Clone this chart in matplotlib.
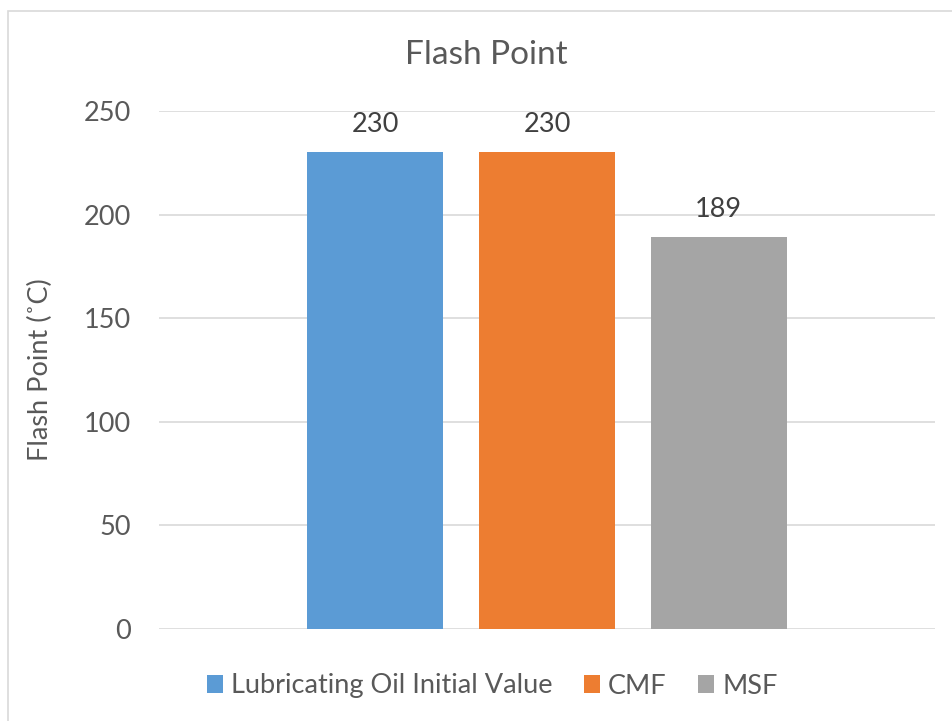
import matplotlib
matplotlib.use("Agg")
import matplotlib.pyplot as plt
from matplotlib.patches import Rectangle

plt.rcParams['font.family'] = ['Lato', 'DejaVu Sans']

series = ["Lubricating Oil Initial Value", "CMF", "MSF"]
values = [230, 230, 189]
colors = ["#5B9BD5", "#ED7D31", "#A5A5A5"]
yticks = [0, 50, 100, 150, 200, 250]

W, H = 953, 721
fig = plt.figure(figsize=(W / 100, H / 100), dpi=100)

# chart frame (light grey border)
fig.patches.append(Rectangle((8 / W, -0.01), 1.0, (H - 11) / H + 0.01,
                             transform=fig.transFigure, fill=False,
                             edgecolor="#D9D9D9", linewidth=1.2))

ax = fig.add_axes([159 / W, 1 - 629 / H, (935 - 159) / W, (629 - 111) / H])

text_c = "#595959"
positions = [-1, 0, 1]
width = 0.793
for pos, v, c, name in zip(positions, values, colors, series):
    ax.bar(pos, v, width=width, color=c, label=name, zorder=3)
    ax.annotate(f"{v}", (pos, v), xytext=(0, 11), textcoords="offset points",
                ha="center", va="bottom", fontsize=19.5, color="#404040")

ax.set_xlim(-2.262, 2.262)
ax.set_ylim(0, 250)
ax.set_yticks(yticks)
ax.set_xticks([])
ax.grid(axis="y", color="#D9D9D9", linewidth=1.2, zorder=0)
for s in ["top", "right", "left", "bottom"]:
    ax.spines[s].set_visible(False)
ax.tick_params(axis="y", length=0, pad=20, labelsize=19.5, labelcolor=text_c)

ax.set_ylabel("Flash Point (˚C)", fontsize=19.5, color=text_c, labelpad=22)
fig.text(486 / W, 1 - 55 / H, "Flash Point", ha="center",
         va="center", fontsize=24, color=text_c)

leg = fig.legend(*ax.get_legend_handles_labels(), loc="center",
                 bbox_to_anchor=(492 / W, 1 - 686 / H),
                 ncol=3, frameon=False, fontsize=19.5, handlelength=0.6,
                 handleheight=0.6, handletextpad=0.3, columnspacing=1.15)
for t in leg.get_texts():
    t.set_color(text_c)

fig.savefig("out.png", dpi=100)
